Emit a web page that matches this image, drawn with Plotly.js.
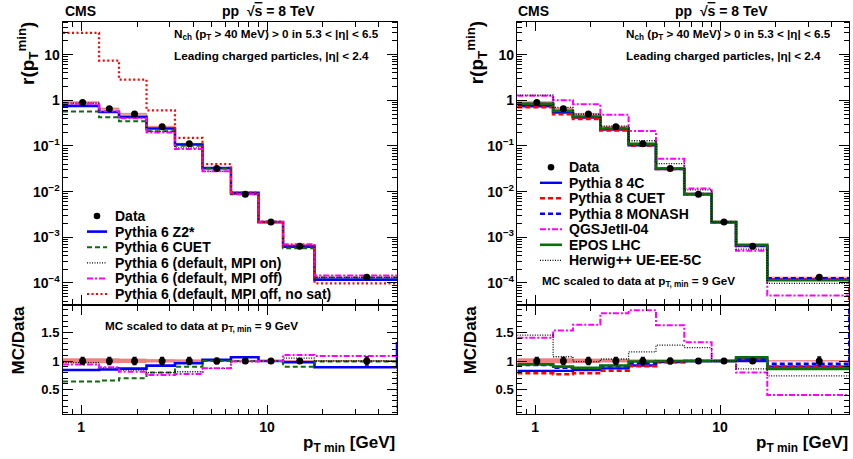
<!DOCTYPE html>
<html>
<head>
<meta charset="utf-8">
<script src="https://cdn.plot.ly/plotly-3.0.1.min.js"></script>
<style>
  html, body { margin: 0; padding: 0; background: #fff; }
  #chart { width: 853px; height: 459px; }
</style>
</head>
<body>
<div id="chart"></div>
<script>
// ---- Histogram binning in leading charged-particle pT,min (GeV) ----
const binEdges = [0.8, 1.25, 1.6, 2.25, 3.2, 4.5, 6.4, 9, 12.2, 18, 50];
const overflowEdge = 70;

// ---- CMS data ----
const dataPt = [1.02, 1.42, 1.94, 2.73, 3.82, 5.37, 7.64, 10.5, 15.0, 34.4];
const dataR = [0.895, 0.65, 0.50, 0.263, 0.112, 0.032, 0.0088, 0.00215, 0.00064, 0.000133];
const dataRatio = [1, 1, 1, 1, 1, 1, 1, 1, 1, 1];
const dataStatRel = [0.06, 0.06, 0.06, 0.06, 0.06, 0.05, 0.04, 0.0, 0.03, 0.07];
const dataSystRel = [0.04, 0.04, 0.035, 0.025, 0.02, 0.015, 0.012, 0.006, 0.01, 0.008];

// ---- PYTHIA 6 predictions: r(pT,min) ----
const p6Z2Top = [0.7536, 0.5525, 0.4325, 0.2414, 0.1075, 0.03264, 0.009372, 0.00215, 0.000625, 0.0001184];
const p6CuetTop = [0.5701, 0.4258, 0.348, 0.2091, 0.1008, 0.032, 0.0088, 0.00215, 0.000576, 0.0001317];
const p6MpiOnTop = [0.8682, 0.572, 0.42, 0.2091, 0.0907, 0.02784, 0.008712, 0.00215, 0.000672, 0.000133];
const p6MpiOffTop = [0.8413, 0.5785, 0.405, 0.1983, 0.08624, 0.02784, 0.008712, 0.00215, 0.0007072, 0.000145];
const p6NoSatTop = [30, 7.4, 2.83, 0.60, 0.15, 0.04, 0.0095, 0.0022, 0.00066, 0.000098];

// ---- PYTHIA 6 predictions: MC / Data ----
const p6Z2Ratio = [0.842, 0.85, 0.865, 0.918, 0.96, 1.02, 1.065, 1.0, 0.977, 0.89];
const p6CuetRatio = [0.637, 0.655, 0.696, 0.795, 0.90, 1.0, 1.0, 1.0, 0.90, 0.99];
const p6MpiOnRatio = [0.97, 0.88, 0.84, 0.795, 0.81, 0.87, 0.99, 1.0, 1.05, 1.0];
const p6MpiOffRatio = [0.94, 0.89, 0.81, 0.754, 0.77, 0.87, 0.99, 1.0, 1.105, 1.09];
const p6Z2RatioOverflow = 1.31;
const p6MpiOnRatioOverflow = 0.0;

// ---- PYTHIA 8 / QGSJet / EPOS / Herwig predictions: r(pT,min) ----
const p84cTop = [0.7384, 0.5363, 0.42, 0.2288, 0.1030, 0.03136, 0.0088, 0.00215, 0.00064, 0.0001197];
const p8CuetTop = [0.7017, 0.4979, 0.392, 0.2183, 0.1019, 0.03126, 0.0088, 0.00215, 0.0006624, 0.0001197];
const p8MonashTop = [0.8324, 0.572, 0.435, 0.2393, 0.1075, 0.03168, 0.0088, 0.00215, 0.0006624, 0.0001264];
const qgsjetTop = [1.262, 1.001, 0.82, 0.4839, 0.2122, 0.05216, 0.0117, 0.00215, 0.0005088, 0.0000532];
const eposTop = [0.8413, 0.585, 0.44, 0.242, 0.1109, 0.032, 0.0088, 0.00215, 0.0006816, 0.0001144];
const herwigTop = [1.303, 0.6988, 0.495, 0.2722, 0.1299, 0.04096, 0.01087, 0.00215, 0.0005504, 0.000098];
const p8CuetTopOverflow = 1e-6;

// ---- PYTHIA 8 / QGSJet / EPOS / Herwig predictions: MC / Data ----
const p84cRatio = [0.825, 0.825, 0.84, 0.87, 0.92, 0.98, 1.0, 1.0, 1.0, 0.90];
const p8CuetRatio = [0.784, 0.766, 0.784, 0.83, 0.91, 0.977, 1.0, 1.0, 1.035, 0.90];
const p8MonashRatio = [0.93, 0.88, 0.87, 0.91, 0.96, 0.99, 1.0, 1.0, 1.035, 0.95];
const qgsjetRatio = [1.41, 1.54, 1.64, 1.84, 1.895, 1.63, 1.33, 1.0, 0.795, 0.40];
const eposRatio = [0.94, 0.90, 0.88, 0.92, 0.99, 1.0, 1.0, 1.0, 1.065, 0.86];
const herwigRatio = [1.456, 1.075, 0.99, 1.035, 1.16, 1.28, 1.235, 1.0, 0.86, 0.737];
const p8CuetRatioOverflow = 3.0;
const p8MonashRatioOverflow = 3.0;

// ---- Labels ----
const dataLabel = 'Data';
const leftNames = ['Pythia 6 Z2*', 'Pythia 6 CUET', 'Pythia 6 (default, MPI on)',
                   'Pythia 6 (default, MPI off)', 'Pythia 6 (default, MPI off, no sat)'];
const rightNames = ['Pythia 8 4C', 'Pythia 8 CUET', 'Pythia 8 MONASH',
                    'QGSJetII-04', 'EPOS LHC', 'Herwig++ UE-EE-5C'];

// ---------------------------------------------------------------
const W = 853, H = 459;
const px = x => x / W;
const py = y => 1 - y / H;
const FONT = 'Liberation Sans, Arial, Helvetica, sans-serif';

const GREEN = '#0b6e0b';
const BAND = '#ee8080';

const leftStyles = [
  { color: '#0000ff', width: 2.6, dash: 'solid' },
  { color: GREEN, width: 2, dash: '5px,3px' },
  { color: '#000000', width: 1.3, dash: '1px,1.5px' },
  { color: '#ff00ff', width: 2, dash: '6px,2px,2px,2px' },
  { color: '#ff0000', width: 2.2, dash: '2px,2.5px' }
];
const rightStyles = [
  { color: '#0000ff', width: 2.4, dash: 'solid' },
  { color: '#ff0000', width: 2.6, dash: '5px,3px' },
  { color: '#0000ff', width: 2.6, dash: '5px,3px' },
  { color: '#ff00ff', width: 2, dash: '6px,2px,2px,2px' },
  { color: GREEN, width: 2.6, dash: 'solid' },
  { color: '#000000', width: 1.3, dash: '1px,1.5px' }
];

// step histogram trace built from bin contents (hv steps over the bin edges)
function histo(vals, style, xa, ya, overflow) {
  let x = binEdges.slice();
  let y = vals.concat([vals[vals.length - 1]]);
  if (overflow !== undefined) {
    x = binEdges.concat([overflowEdge]);
    y = vals.concat([overflow, overflow]);
  }
  return {
    type: 'scatter', mode: 'lines', x: x, y: y, xaxis: xa, yaxis: ya,
    line: { shape: 'hv', color: style.color, width: style.width, dash: style.dash },
    hoverinfo: 'skip', showlegend: false
  };
}

// data systematic band (filled step band)
function band(centre, rel, xa, ya) {
  const lo = centre.map((v, i) => v * (1 - rel[i]));
  const hi = centre.map((v, i) => v * (1 + rel[i]));
  const x = binEdges.slice();
  return [
    { type: 'scatter', mode: 'lines', x: x, y: lo.concat([lo[lo.length - 1]]), xaxis: xa, yaxis: ya,
      line: { shape: 'hv', width: 0, color: BAND }, hoverinfo: 'skip', showlegend: false },
    { type: 'scatter', mode: 'lines', x: x, y: hi.concat([hi[hi.length - 1]]), xaxis: xa, yaxis: ya,
      fill: 'tonexty', fillcolor: BAND,
      line: { shape: 'hv', width: 0.8, color: BAND }, hoverinfo: 'skip', showlegend: false }
  ];
}

function dataPoints(vals, xa, ya) {
  return {
    type: 'scatter', mode: 'markers', x: dataPt, y: vals, xaxis: xa, yaxis: ya,
    marker: { color: '#000', size: 7, symbol: 'circle' },
    error_y: { type: 'data', array: vals.map((v, i) => v * dataStatRel[i]),
               color: '#000', thickness: 1.5, width: 2 },
    hoverinfo: 'skip', showlegend: false
  };
}

const traces = [];
// left panel, top
traces.push(...band(dataR, dataSystRel, 'x', 'y'));
[p6Z2Top, p6CuetTop, p6MpiOnTop, p6MpiOffTop, p6NoSatTop].forEach((v, i) =>
  traces.push(histo(v, leftStyles[i], 'x', 'y')));
traces.push(dataPoints(dataR, 'x', 'y'));
// left panel, ratio
traces.push(...band(dataRatio, dataSystRel, 'x2', 'y2'));
traces.push(histo(p6Z2Ratio, leftStyles[0], 'x2', 'y2', p6Z2RatioOverflow));
traces.push(histo(p6CuetRatio, leftStyles[1], 'x2', 'y2'));
traces.push(histo(p6MpiOnRatio, leftStyles[2], 'x2', 'y2', p6MpiOnRatioOverflow));
traces.push(histo(p6MpiOffRatio, leftStyles[3], 'x2', 'y2'));
traces.push(dataPoints(dataRatio, 'x2', 'y2'));
// right panel, top
traces.push(...band(dataR, dataSystRel, 'x3', 'y3'));
traces.push(histo(p84cTop, rightStyles[0], 'x3', 'y3'));
traces.push(histo(p8CuetTop, rightStyles[1], 'x3', 'y3', p8CuetTopOverflow));
traces.push(histo(p8MonashTop, rightStyles[2], 'x3', 'y3'));
traces.push(histo(qgsjetTop, rightStyles[3], 'x3', 'y3'));
traces.push(histo(eposTop, rightStyles[4], 'x3', 'y3'));
traces.push(histo(herwigTop, rightStyles[5], 'x3', 'y3'));
traces.push(dataPoints(dataR, 'x3', 'y3'));
// right panel, ratio
traces.push(...band(dataRatio, dataSystRel, 'x4', 'y4'));
traces.push(histo(p84cRatio, rightStyles[0], 'x4', 'y4'));
traces.push(histo(p8CuetRatio, rightStyles[1], 'x4', 'y4', p8CuetRatioOverflow));
traces.push(histo(p8MonashRatio, rightStyles[2], 'x4', 'y4', p8MonashRatioOverflow));
traces.push(histo(qgsjetRatio, rightStyles[3], 'x4', 'y4'));
traces.push(histo(eposRatio, rightStyles[4], 'x4', 'y4'));
traces.push(histo(herwigRatio, rightStyles[5], 'x4', 'y4'));
traces.push(dataPoints(dataRatio, 'x4', 'y4'));

// ---- axes ----
const xRange = [Math.log10(0.8), Math.log10(50)];
const topYRange = [-4.461, 1.721];
const ratioYRange = [0.06, 1.97];
const leftDomain = [px(63), px(397)];
const rightDomain = [px(517.3), px(849.3)];
const topDomain = [py(304), py(21.7)];
const ratioDomain = [py(414.3), py(306)];

function frameAxis(extra) {
  return Object.assign({
    showline: true, linecolor: '#000', linewidth: 1, mirror: 'allticks',
    ticks: 'inside', tickcolor: '#000', tickwidth: 1,
    showgrid: false, zeroline: false, fixedrange: true,
    tickfont: { family: FONT, size: 14, color: '#000', weight: 'bold' }
  }, extra);
}
function xAxis(domain, anchor, labels) {
  return frameAxis({
    domain: domain, anchor: anchor, type: 'log', range: xRange, dtick: 1,
    exponentformat: 'none', ticklen: 9, showticklabels: labels,
    minor: { ticks: 'inside', ticklen: 5, tickcolor: '#000', showgrid: false }
  });
}
function topYAxis(domain, anchor) {
  return frameAxis({
    domain: domain, anchor: anchor, type: 'log', range: topYRange, dtick: 1,
    exponentformat: 'power', ticklen: 10,
    tickfont: { family: FONT, size: 11.2, color: '#000', weight: 'bold' },
    minor: { ticks: 'inside', ticklen: 5, tickcolor: '#000', showgrid: false }
  });
}
function ratioYAxis(domain, anchor) {
  return frameAxis({
    domain: domain, anchor: anchor, type: 'linear', range: ratioYRange,
    tick0: 0, dtick: 0.5, ticklen: 10,
    tickfont: { family: FONT, size: 13, color: '#000', weight: 'bold' },
    minor: { ticks: 'inside', ticklen: 5, dtick: 0.1, tickcolor: '#000', showgrid: false }
  });
}

// ---- text ----
const ann = [];
function txt(text, x, y, size, opts) {
  ann.push(Object.assign({
    text: text, x: px(x), y: py(y), xref: 'paper', yref: 'paper',
    showarrow: false, xanchor: 'left', yanchor: 'middle',
    font: { family: FONT, size: size, color: '#000', weight: 'bold' }
  }, opts || {}));
}
const sqrtS = '√<span style="text-decoration:overline">s</span>';
const nchText = 'N<sub>ch</sub> (p<sub>T</sub> &gt; 40 MeV) &gt; 0 in 5.3 &lt; |η| &lt; 6.5';
const leadText = 'Leading charged particles, |η| &lt; 2.4';
const scaledText = 'MC scaled to data at p<sub>T, min</sub> = 9 GeV';
const rTitle = 'r(p<sub>T</sub><sup>min</sup>)';
const ratioTitle = 'MC/Data';
const xTitle = 'p<sub>T min</sub> [GeV]';

[[0, 0], [454.3, 452.3]].forEach(([dx, dxt]) => {
  txt('CMS', 63 + dx - (dx ? 1.5 : 0), 11, 14);
  txt('pp  ' + sqrtS + ' = 8 TeV', 268.5 + dx - (dx ? 0 : 0) + (dx ? -1 : 0), 11, 14, { xanchor: 'center' });
  txt(nchText, 172 + dxt, 34, 11.7);
  txt(leadText, 172 + dxt, 55.5, 11.7);
  txt(rTitle, 27 + dx - (dx ? 5 : 0), 53, 19, { textangle: -90, xanchor: 'center' });
  txt(ratioTitle, 17.5 + dx - (dx ? 1.5 : 0), 340, 17, { textangle: -90, xanchor: 'center' });
  txt(xTitle, 397 + dx + (dx ? -1 : 0), 444, 17, { xanchor: 'right' });
});
txt(scaledText, 103, 326, 11.7);
txt(scaledText, 540, 281, 11.7);

// ---- legends ----
const shapes = [];
function legend(names, styles, x0, x1, xText, yRows) {
  // data entry: marker only
  const cx = (x0 + x1) / 2, r = 3.3;
  shapes.push({ type: 'circle', xref: 'paper', yref: 'paper',
    x0: px(cx - r), x1: px(cx + r), y0: py(yRows[0] + r), y1: py(yRows[0] - r),
    fillcolor: '#000', line: { width: 0 } });
  txt(dataLabel, xText, yRows[0], 14);
  names.forEach((n, i) => {
    const y = yRows[i + 1], s = styles[i];
    shapes.push({ type: 'line', xref: 'paper', yref: 'paper',
      x0: px(x0), x1: px(x1), y0: py(y), y1: py(y),
      line: { color: s.color, width: s.width, dash: s.dash } });
    txt(n, xText, y, 14);
  });
}
legend(leftNames, leftStyles, 87, 107, 113, [216, 231.6, 247.2, 262.8, 278.4, 294]);
legend(rightNames, rightStyles, 540, 562, 567, [167.3, 182.8, 198.3, 213.8, 229.3, 244.8, 260.3]);

const layout = {
  width: W, height: H,
  margin: { l: 0, r: 0, t: 0, b: 0 },
  paper_bgcolor: '#fff', plot_bgcolor: 'rgba(0,0,0,0)',
  showlegend: false,
  font: { family: FONT, color: '#000' },
  xaxis: xAxis(leftDomain, 'y', false),
  yaxis: topYAxis(topDomain, 'x'),
  xaxis2: xAxis(leftDomain, 'y2', true),
  yaxis2: ratioYAxis(ratioDomain, 'x2'),
  xaxis3: xAxis(rightDomain, 'y3', false),
  yaxis3: topYAxis(topDomain, 'x3'),
  xaxis4: xAxis(rightDomain, 'y4', true),
  yaxis4: ratioYAxis(ratioDomain, 'x4'),
  annotations: ann,
  shapes: shapes
};

Plotly.newPlot('chart', traces, layout, { staticPlot: true, displayModeBar: false });
</script>
</body>
</html>
